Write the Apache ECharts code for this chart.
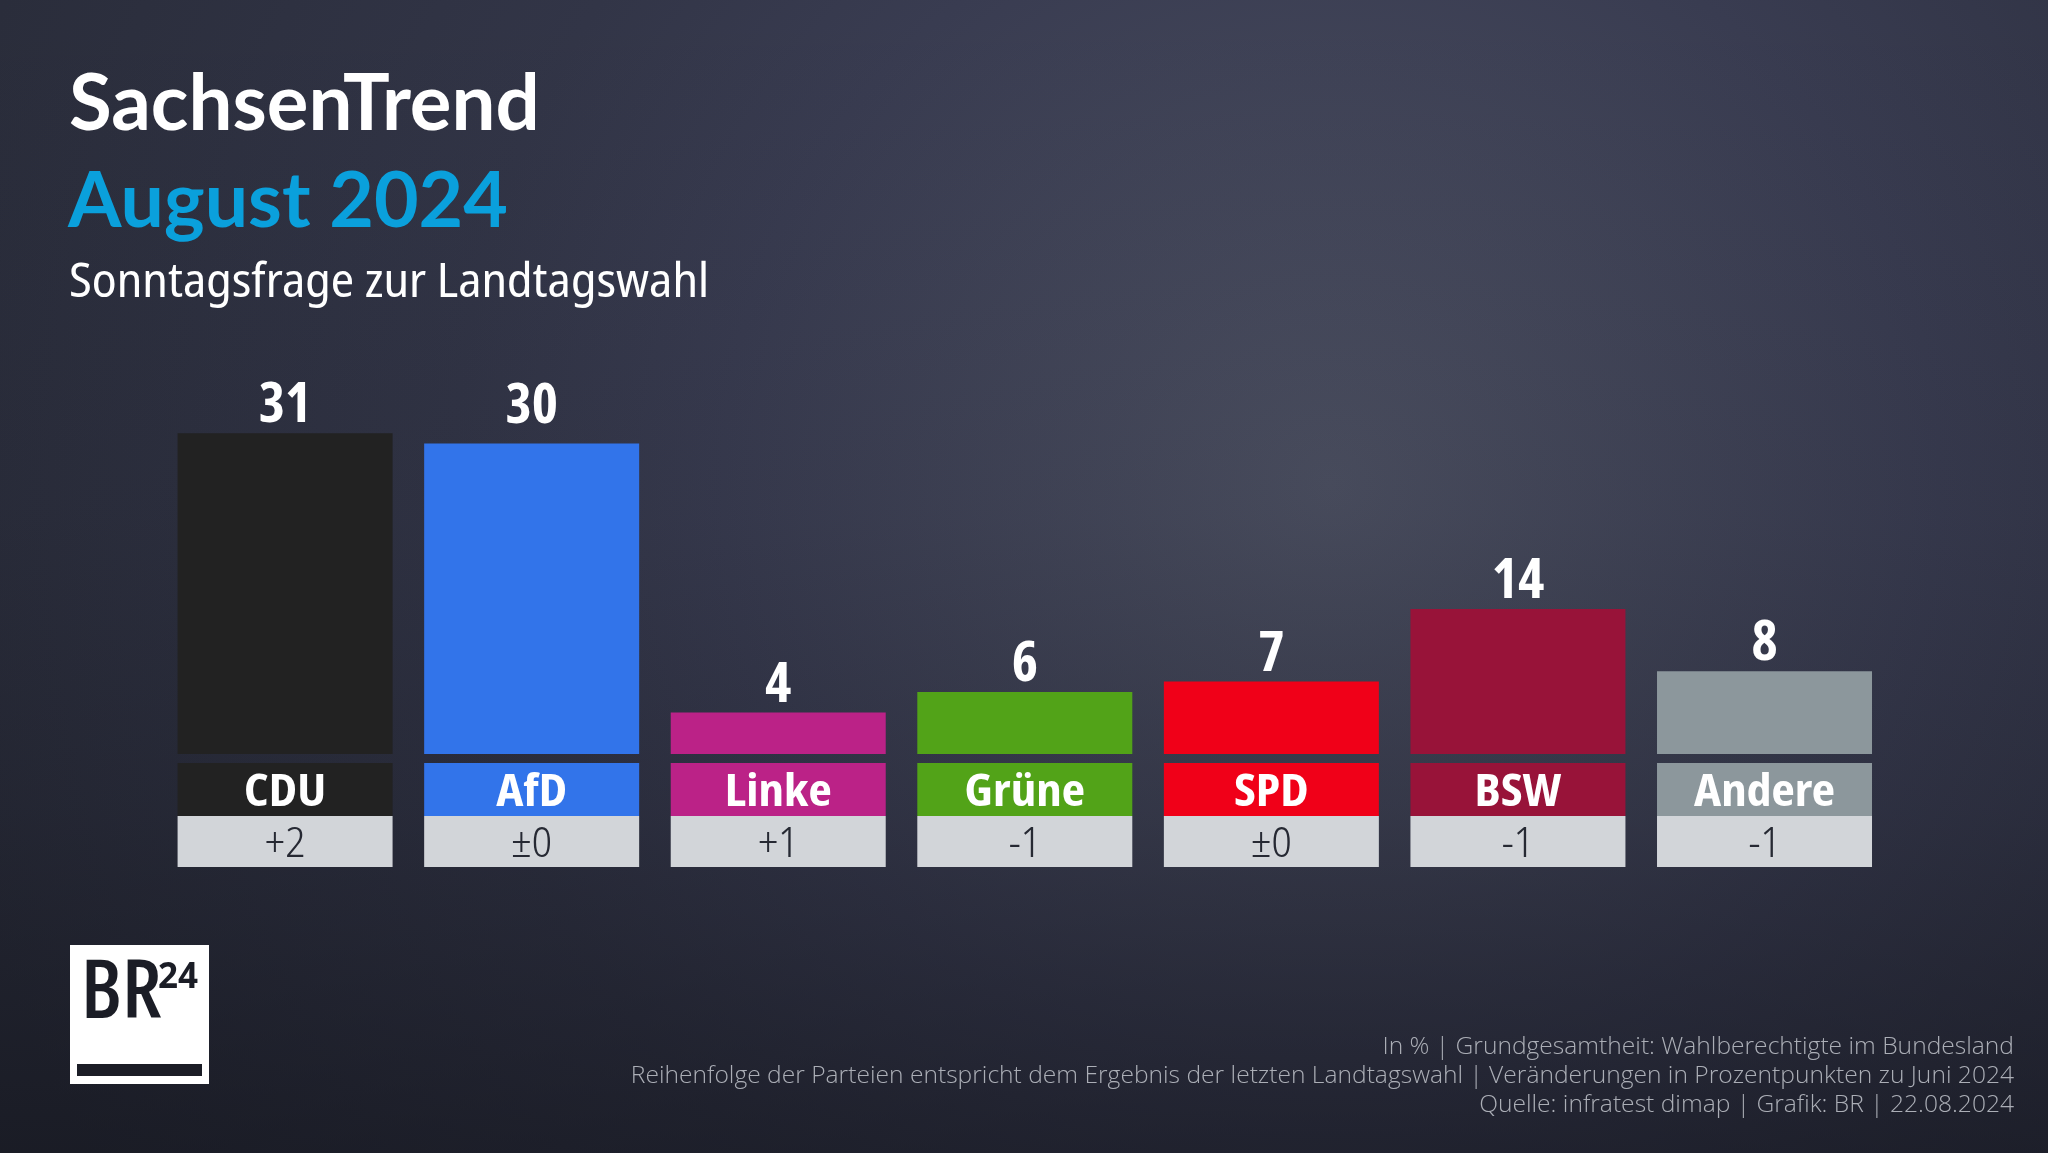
<!DOCTYPE html>
<html><head><meta charset="utf-8">
<script src="https://cdn.jsdelivr.net/npm/echarts@6/dist/echarts.min.js"></script>
<style>html,body{margin:0;padding:0;background:#2b2e3a}#chart{width:2048px;height:1153px}</style>
</head><body><div id="chart"></div>
<script>
// make "condensed" keywords in canvas font strings effective
(function(){
  const P = CanvasRenderingContext2D.prototype;
  const d = Object.getOwnPropertyDescriptor(P, 'font');
  if (!d || !('fontStretch' in P)) return;
  Object.defineProperty(P, 'font', {
    configurable: true, enumerable: d.enumerable,
    get() { return d.get.call(this); },
    set(v) {
      d.set.call(this, v);
      const m = /(ultra-condensed|extra-condensed|semi-condensed|condensed|semi-expanded|expanded)/.exec(v);
      try { this.fontStretch = m ? m[1] : 'normal'; } catch (e) {}
    }
  });
})();

const parties = ['CDU', 'AfD', 'Linke', 'Grüne', 'SPD', 'BSW', 'Andere'];
const shares = [31, 30, 4, 6, 7, 14, 8];
const changes = ['+2', '±0', '+1', '-1', '±0', '-1', '-1'];
const partyColors = ['#222222', '#3274ea', '#bb2287', '#52a318', '#f00018', '#981339', '#8c979c'];
const footerLines = [
  'In % | Grundgesamtheit: Wahlberechtigte im Bundesland',
  'Reihenfolge der Parteien entspricht dem Ergebnis der letzten Landtagswahl | Veränderungen in Prozentpunkten zu Juni 2024',
  'Quelle: infratest dimap | Grafik: BR | 22.08.2024'
];

const OS = '"Open Sans", "Noto Sans", sans-serif';
const NSD = '"Noto Sans Display", "Open Sans", sans-serif';
const LATO = 'Lato, "Open Sans", sans-serif';
const chart = echarts.init(document.getElementById('chart'), null, { renderer: 'canvas' });

const rich = {
  c: { width: 215, height: 44, padding: [7, 0, 0, 0], lineHeight: 51, backgroundColor: '#d2d5d9', color: '#262933',
       fontSize: 41.7, fontWeight: '300 condensed', fontFamily: NSD, align: 'center' }
};
partyColors.forEach((col, i) => {
  rich['n' + i] = { width: 215, height: 45, padding: [8, 0, 0, 0], lineHeight: 53, backgroundColor: col, color: '#ffffff',
    fontSize: 44.4, fontWeight: 'bold condensed', fontFamily: NSD, align: 'center' };
});

const footerGraphics = footerLines.map((t, i) => ({
  type: 'text', right: 34, top: 1034 + i * 29, z: 10,
  style: { text: t, fill: '#abaeb6', font: '300 24.6px ' + OS, textAlign: 'right' }
}));

chart.setOption({
  backgroundColor: {
    type: 'radial', x: 0.65, y: 0.42, r: 1.226,
    colorStops: [
      { offset: 0, color: '#4d5163' },
      { offset: 0.43, color: '#393c51' },
      { offset: 0.62, color: '#323547' },
      { offset: 1, color: '#2a2d3b' }
    ]
  },
  animation: false,
  grid: { left: 161.8, right: 160.2, top: 340, bottom: 399 },
  xAxis: {
    type: 'category', data: parties,
    axisLine: { show: false }, axisTick: { show: false },
    axisLabel: {
      interval: 0, margin: 9,
      formatter: (v, i) => '{n' + i + '|' + v + '}\n{c|' + changes[i] + '}',
      rich: rich
    }
  },
  yAxis: { type: 'value', min: 0, max: 40, show: false, splitLine: { show: false } },
  series: [{
    type: 'bar', barWidth: 215, z: 5,
    data: shares.map((v, i) => {
      const item = { value: v, itemStyle: { color: partyColors[i] } };
      if (parties[i] === 'AfD') item.label = { distance: 8 }; // label sits higher in the original
      return item;
    }),
    label: {
      show: true, position: 'top', distance: -1, color: '#ffffff',
      fontSize: 56, fontWeight: 'bold condensed', fontFamily: OS
    }
  }],
  graphic: [
    // darker shading toward the bottom of the background
    { type: 'rect', z: -100, silent: true, shape: { x: 0, y: 0, width: 2048, height: 1153 },
      style: { fill: { type: 'linear', x: 0, y: 0, x2: 0, y2: 1, colorStops: [
        { offset: 0, color: 'rgba(13,14,20,0)' },
        { offset: 0.45, color: 'rgba(13,14,20,0.1)' },
        { offset: 0.7, color: 'rgba(13,14,20,0.25)' },
        { offset: 1, color: 'rgba(13,14,20,0.55)' } ] } } },
    { type: 'text', left: 69, top: 66, style: { text: 'SachsenTrend', fill: '#ffffff', font: 'bold 78px ' + LATO } },
    { type: 'text', left: 68, top: 164, style: { text: 'August 2024', fill: '#0aa0dc', font: 'bold 77px ' + LATO } },
    { type: 'text', left: 69, top: 259, style: { text: 'Sonntagsfrage zur Landtagswahl', fill: '#ffffff', font: 'normal condensed 48px ' + NSD } },
    // BR24 logo
    { type: 'rect', shape: { x: 70, y: 945, width: 139, height: 139 }, style: { fill: '#ffffff' } },
    { type: 'rect', shape: { x: 77, y: 1064, width: 125, height: 12 }, style: { fill: '#1b1d26' } },
    { type: 'text', left: 81, top: 954, style: { text: 'BR', fill: '#1b1d26', font: '600 condensed 82px ' + OS } },
    { type: 'text', left: 158, top: 961, style: { text: '24', fill: '#1b1d26', font: 'bold 35px ' + OS } }
  ].concat(footerGraphics)
});
</script></body></html>
